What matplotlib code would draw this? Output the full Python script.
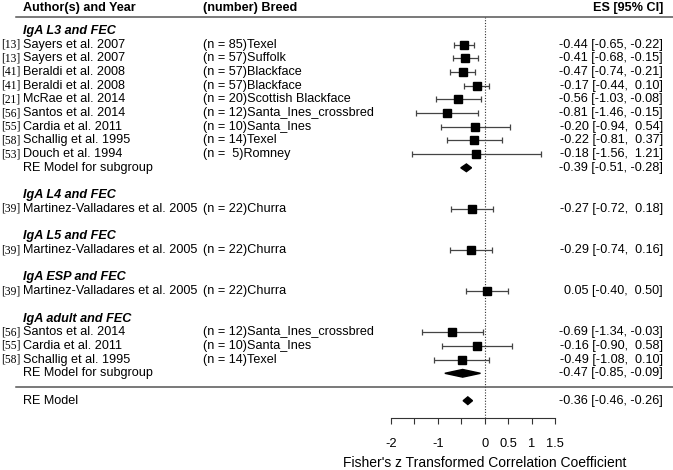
import numpy as np
import matplotlib.pyplot as plt
from matplotlib.patches import Polygon

plt.rcParams['font.family'] = ['Liberation Sans', 'DejaVu Sans']
plt.rcParams['font.size'] = 9.1

# subgroups (in order, top to bottom)
groups = ["IgA L3 and FEC", "IgA L4 and FEC", "IgA L5 and FEC",
          "IgA ESP and FEC", "IgA adult and FEC"]

# individual studies
study_group = [0, 0, 0, 0, 0, 0, 0, 0, 0, 1, 2, 3, 4, 4, 4]
refs = ["13", "13", "41", "41", "21", "56", "55", "58", "53",
        "39", "39", "39", "56", "55", "58"]
authors = ["Sayers et al. 2007", "Sayers et al. 2007", "Beraldi et al. 2008",
           "Beraldi et al. 2008", "McRae et al. 2014", "Santos et al. 2014",
           "Cardia et al. 2011", "Schallig et al. 1995", "Douch et al. 1994",
           "Martinez-Valladares et al. 2005", "Martinez-Valladares et al. 2005",
           "Martinez-Valladares et al. 2005", "Santos et al. 2014",
           "Cardia et al. 2011", "Schallig et al. 1995"]
n_sheep = [85, 57, 57, 57, 20, 12, 10, 14, 5, 22, 22, 22, 12, 10, 14]
breeds = ["Texel", "Suffolk", "Blackface", "Blackface", "Scottish Blackface",
          "Santa_Ines_crossbred", "Santa_Ines", "Texel", "Romney",
          "Churra", "Churra", "Churra", "Santa_Ines_crossbred", "Santa_Ines",
          "Texel"]
es = [-0.44, -0.41, -0.47, -0.17, -0.56, -0.81, -0.20, -0.22, -0.18,
      -0.27, -0.29, 0.05, -0.69, -0.16, -0.49]
ci_lo = [-0.65, -0.68, -0.74, -0.44, -1.03, -1.46, -0.94, -0.81, -1.56,
         -0.72, -0.74, -0.40, -1.34, -0.90, -1.08]
ci_hi = [-0.22, -0.15, -0.21, 0.10, -0.08, -0.15, 0.54, 0.37, 1.21,
         0.18, 0.16, 0.50, -0.03, 0.58, 0.10]

# RE model per subgroup (only groups with several studies)
sub_group = [0, 4]
sub_es = [-0.39, -0.47]
sub_lo = [-0.51, -0.85]
sub_hi = [-0.28, -0.09]

# overall RE model
all_es, all_lo, all_hi = -0.36, -0.46, -0.26

tick_vals = [-2, -1.5, -1, -0.5, 0, 0.5, 1, 1.5]
tick_labels = ["-2", "", "-1", "", "0", "0.5", "1", "1.5"]

# text columns (data units on the x axis)
x_ref = -10.31
x_auth = -9.85
x_breed = -6.0
x_val = 3.80
x_line0 = -10.0

line_col = "#555555"


def es_text(e, lo, hi):
    return "%.2f [%.2f, %5.2f]" % (e, lo, hi)


def diamond(ax, row, e, lo, hi, h=0.28):
    ax.add_patch(Polygon([(lo, row), (e, row + h), (hi, row), (e, row - h)],
                         closed=True, color="black", zorder=4))


fig = plt.figure(figsize=(6.73, 4.70), dpi=100)
ax = fig.add_axes([0, 51.7 / 470, 1, 418.3 / 470])
ax.set_xlim(-10.335, 4.015)
ax.set_ylim(-2.285, 28.25)

for s in ["left", "right", "top"]:
    ax.spines[s].set_visible(False)
ax.spines["bottom"].set_bounds(tick_vals[0], tick_vals[-1])
ax.spines["bottom"].set_color("#333333")
ax.set_yticks([])
ax.set_xticks(tick_vals)
ax.set_xticklabels(tick_labels)
ax.tick_params(axis="x", direction="out", length=4.5, width=0.8,
               color="#333333", pad=10, labelsize=9.3)

top = 26
row = top
for g, name in enumerate(groups):
    ax.text(x_auth, row, name, fontweight="bold", fontstyle="italic",
            va="center", ha="left")
    row -= 1
    for i in range(len(es)):
        if study_group[i] != g:
            continue
        ax.errorbar(es[i], row, xerr=[[es[i] - ci_lo[i]], [ci_hi[i] - es[i]]],
                    fmt="none", ecolor="#444444", elinewidth=0.9,
                    capsize=2.2, capthick=0.9, zorder=2)
        ax.plot(es[i], row, marker="s", ms=6.2, color="black",
                ls="none", zorder=3)
        ax.text(x_ref, row, "[%s]" % refs[i], family="Liberation Serif",
                fontsize=8.3, va="center", ha="left")
        ax.text(x_auth, row, authors[i], va="center", ha="left")
        ax.text(x_breed, row, "(n = %2d)%s" % (n_sheep[i], breeds[i]),
                va="center", ha="left")
        ax.text(x_val, row, es_text(es[i], ci_lo[i], ci_hi[i]),
                va="center", ha="right")
        row -= 1
    if g in sub_group:
        k = sub_group.index(g)
        diamond(ax, row, sub_es[k], sub_lo[k], sub_hi[k])
        ax.text(x_auth, row, "RE Model for subgroup", va="center", ha="left")
        ax.text(x_val, row, es_text(sub_es[k], sub_lo[k], sub_hi[k]),
                va="center", ha="right")
        row -= 1
    row -= 1

# overall model
ax.axhline(row + 1, xmin=(x_line0 + 10.335) / 14.35, color=line_col, lw=1.1)
diamond(ax, row, all_es, all_lo, all_hi)
ax.text(x_auth, row, "RE Model", va="center", ha="left")
ax.text(x_val, row, es_text(all_es, all_lo, all_hi), va="center", ha="right")

# header
ax.axhline(top + 1, xmin=(x_line0 + 10.335) / 14.35, color=line_col, lw=1.1)
ax.text(x_auth, top + 1.65, "Author(s) and Year", fontweight="bold",
        va="center", ha="left")
ax.text(x_breed, top + 1.65, "(number) Breed", fontweight="bold",
        va="center", ha="left")
ax.text(x_val + 0.02, top + 1.65, "ES [95% CI]", fontweight="bold",
        va="center", ha="right")

# reference line at zero
ax.plot([0, 0], [-2.285, top + 1], ls=(0, (1, 1.5)), color="#333333",
        lw=0.8, zorder=1)

ax.text(0.0, -5.55, "Fisher's z Transformed Correlation Coefficient",
        fontsize=10, va="center", ha="center", clip_on=False)

fig.savefig("out.png", dpi=100)
